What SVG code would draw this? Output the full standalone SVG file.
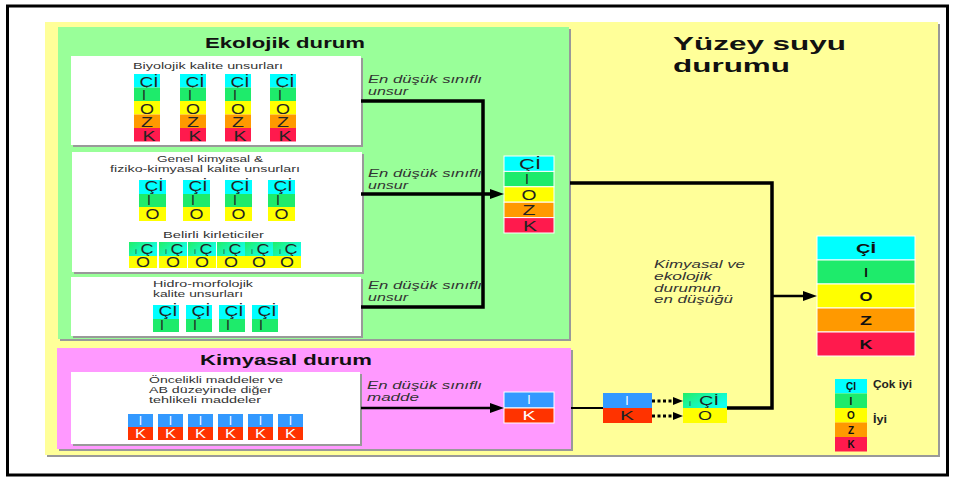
<svg xmlns="http://www.w3.org/2000/svg" width="955" height="479" viewBox="0 0 955 479">
<style>
text{font-family:'Liberation Sans',Arial,sans-serif;fill:#222}
.cy{fill:#00FFFF}.gr{fill:#1EEB6B}.ye{fill:#FFFF00}.or{fill:#FF9900}.rd{fill:#FF1A4D}.bl{fill:#3399FF}.ro{fill:#FF3300}
.ct{font-size:14px;text-anchor:middle}
.cw{font-size:12px;text-anchor:middle;fill:#fff}
.cb{font-size:13px;font-weight:bold;text-anchor:middle;fill:#111}
.lg{font-size:10px;font-weight:bold;text-anchor:middle;fill:#111}
.lb{font-size:9px;fill:#333}
.it{font-size:10px;font-style:italic;fill:#333}
.ttl{font-size:15px;font-weight:bold;fill:#111}
.big{font-size:19px;font-weight:bold;fill:#111}
.sh{fill:#999}
.wb{fill:#fff}
.sep{stroke:#fff;stroke-width:1}
.ln{fill:none;stroke:#000;stroke-linecap:butt}
</style>
<defs>
<linearGradient id="gc" x1="0" y1="0" x2="1" y2="0.6">
<stop offset="0" stop-color="#22EE66"/><stop offset="1" stop-color="#11FFEE"/>
</linearGradient>
<marker id="ah" markerUnits="userSpaceOnUse" markerWidth="14" markerHeight="10" refX="2" refY="5" orient="auto">
<path d="M0,0 L14,5 L0,10 z" fill="#000"/>
</marker>
<marker id="as" markerUnits="userSpaceOnUse" markerWidth="10" markerHeight="8" refX="1" refY="4" orient="auto">
<path d="M0,0 L10,4 L0,8 z" fill="#000"/>
</marker>
<g id="bio5">
<rect x="0" y="0" width="26" height="13.5" class="cy"/><text x="15" y="12.5" class="ct" textLength="19" lengthAdjust="spacingAndGlyphs">Çİ</text>
<rect x="0" y="13.5" width="26" height="13.5" class="gr"/><text x="10" y="25.5" class="ct">I</text>
<rect x="0" y="27" width="26" height="13.5" class="ye"/><text x="13" y="39.5" class="ct" textLength="14" lengthAdjust="spacingAndGlyphs">O</text>
<rect x="0" y="40.5" width="26" height="13.5" class="or"/><text x="13" y="53" class="ct" textLength="12" lengthAdjust="spacingAndGlyphs">Z</text>
<rect x="0" y="54" width="26" height="13.5" class="rd"/><text x="15" y="66.5" class="ct" textLength="13" lengthAdjust="spacingAndGlyphs">K</text>
</g>
<g id="gen3">
<rect x="0" y="0" width="27" height="14" class="cy"/><text x="15" y="10.5" class="ct" textLength="19" lengthAdjust="spacingAndGlyphs">Çİ</text>
<rect x="0" y="14" width="27" height="13" class="gr"/><text x="10" y="25" class="ct">I</text>
<rect x="0" y="27" width="27" height="14" class="ye"/><text x="13.5" y="39" class="ct" textLength="14" lengthAdjust="spacingAndGlyphs">O</text>
</g>
<g id="bel2">
<rect x="0" y="0" width="28" height="14" fill="url(#gc)"/><text x="7" y="12" class="ct" style="font-size:7px">i</text><text x="18" y="11.5" class="ct" textLength="13" lengthAdjust="spacingAndGlyphs">Ç</text>
<rect x="0" y="14" width="28" height="12" class="ye"/><text x="14" y="25" class="ct" textLength="14" lengthAdjust="spacingAndGlyphs">O</text>
</g>
<g id="hid2">
<rect x="0" y="0" width="26" height="14" class="cy"/><text x="15" y="11" class="ct" textLength="19" lengthAdjust="spacingAndGlyphs">Çİ</text>
<rect x="0" y="14" width="26" height="13" class="gr"/><text x="9" y="25" class="ct">I</text>
</g>
<g id="kim2">
<rect x="0" y="0" width="25" height="13" class="bl"/><text x="12.5" y="10.5" class="cw">I</text>
<rect x="0" y="13" width="25" height="13" class="ro"/><text x="12.5" y="23.5" class="cw" textLength="11" lengthAdjust="spacingAndGlyphs">K</text>
</g>
</defs>

<rect x="7.5" y="6" width="940" height="469" fill="#fff" stroke="#000" stroke-width="3"/>

<g id="yuzey-panel">
<rect x="47" y="24" width="893" height="433" class="sh"/>
<rect x="45" y="22" width="893" height="433" fill="#FFFF99"/>
<text x="673" y="50" class="big" textLength="173" lengthAdjust="spacingAndGlyphs">Yüzey suyu</text>
<text x="673" y="72" class="big" textLength="117" lengthAdjust="spacingAndGlyphs">durumu</text>
</g>

<g id="ekolojik-panel">
<rect x="60" y="29" width="511" height="312" class="sh"/>
<rect x="58" y="27" width="511" height="312" fill="#99FF99"/>
<text x="205" y="48" class="ttl" textLength="160" lengthAdjust="spacingAndGlyphs">Ekolojik durum</text>
</g>

<g id="kimyasal-panel">
<rect x="59" y="350" width="514" height="101" class="sh"/>
<rect x="57" y="348" width="514" height="101" fill="#FF99FF"/>
<text x="200" y="365" class="ttl" textLength="172" lengthAdjust="spacingAndGlyphs">Kimyasal durum</text>
</g>

<g id="biyolojik">
<rect x="73" y="58" width="290" height="89" class="sh"/>
<rect x="71" y="56" width="290" height="89" class="wb"/>
<text x="133" y="69" class="lb" textLength="150" lengthAdjust="spacingAndGlyphs">Biyolojik kalite unsurları</text>
<use href="#bio5" x="134" y="74"/>
<use href="#bio5" x="180" y="74"/>
<use href="#bio5" x="225" y="74"/>
<use href="#bio5" x="270" y="74"/>
</g>

<g id="genel-kimyasal">
<rect x="74" y="154" width="290" height="120" class="sh"/>
<rect x="72" y="152" width="290" height="120" class="wb"/>
<text x="157" y="162" class="lb" textLength="106" lengthAdjust="spacingAndGlyphs">Genel kimyasal &amp;</text>
<text x="110" y="172" class="lb" textLength="190" lengthAdjust="spacingAndGlyphs">fiziko-kimyasal kalite unsurları</text>
<use href="#gen3" x="139" y="180"/>
<use href="#gen3" x="183" y="180"/>
<use href="#gen3" x="225" y="180"/>
<use href="#gen3" x="268" y="180"/>
<text x="163" y="238" class="lb" textLength="101" lengthAdjust="spacingAndGlyphs">Belirli kirleticiler</text>
<use href="#bel2" x="129" y="242"/>
<use href="#bel2" x="159" y="242"/>
<use href="#bel2" x="188" y="242"/>
<use href="#bel2" x="217" y="242"/>
<use href="#bel2" x="245" y="242"/>
<use href="#bel2" x="273" y="242"/>
</g>

<g id="hidro-morfolojik">
<rect x="73" y="279" width="290" height="59" class="sh"/>
<rect x="71" y="277" width="290" height="59" class="wb"/>
<text x="153" y="287" class="lb" textLength="100" lengthAdjust="spacingAndGlyphs">Hidro-morfolojik</text>
<text x="153" y="297" class="lb" textLength="90" lengthAdjust="spacingAndGlyphs">kalite unsurları</text>
<use href="#hid2" x="153" y="305"/>
<use href="#hid2" x="186" y="305"/>
<use href="#hid2" x="219" y="305"/>
<use href="#hid2" x="252" y="305"/>
</g>

<g id="oncelikli-maddeler">
<rect x="73" y="374" width="289" height="72" class="sh"/>
<rect x="71" y="372" width="289" height="72" class="wb"/>
<text x="149" y="383" class="lb" textLength="134" lengthAdjust="spacingAndGlyphs">Öncelikli maddeler ve</text>
<text x="149" y="393" class="lb" textLength="123" lengthAdjust="spacingAndGlyphs">AB düzeyinde diğer</text>
<text x="149" y="403" class="lb" textLength="112" lengthAdjust="spacingAndGlyphs">tehlikeli maddeler</text>
<use href="#kim2" x="128" y="414"/>
<use href="#kim2" x="158" y="414"/>
<use href="#kim2" x="188" y="414"/>
<use href="#kim2" x="218" y="414"/>
<use href="#kim2" x="248" y="414"/>
<use href="#kim2" x="278" y="414"/>
</g>

<g id="ekolojik-sonuc">
<rect x="504" y="156" width="50" height="15.4" class="cy sep"/><text x="530" y="169" class="ct" textLength="22" lengthAdjust="spacingAndGlyphs">Çİ</text>
<rect x="504" y="171.4" width="50" height="15.4" class="gr sep"/><text x="527" y="184.4" class="ct">I</text>
<rect x="504" y="186.8" width="50" height="15.4" class="ye sep"/><text x="529" y="199.8" class="ct" textLength="15" lengthAdjust="spacingAndGlyphs">O</text>
<rect x="504" y="202.2" width="50" height="15.4" class="or sep"/><text x="529" y="215.2" class="ct" textLength="13" lengthAdjust="spacingAndGlyphs">Z</text>
<rect x="504" y="217.6" width="50" height="15.4" class="rd sep"/><text x="530" y="230.6" class="ct" textLength="14" lengthAdjust="spacingAndGlyphs">K</text>
</g>

<g id="kimyasal-sonuc">
<rect x="504" y="392" width="50" height="16" class="bl sep"/><text x="529" y="404" class="cw">I</text>
<rect x="504" y="408" width="50" height="15" class="ro sep"/><text x="529" y="420" class="cw" textLength="13" lengthAdjust="spacingAndGlyphs">K</text>
</g>

<g id="kimyasal-eslesme">
<rect x="603" y="393" width="49" height="15" class="bl"/><text x="627" y="405" class="cw">I</text>
<rect x="603" y="408" width="49" height="15" class="ro"/><text x="627" y="420" class="ct" style="font-size:13px" textLength="14" lengthAdjust="spacingAndGlyphs">K</text>
</g>

<g id="kimyasal-karsilik">
<rect x="683" y="393" width="44" height="15" fill="url(#gc)"/><text x="690" y="406" class="ct" style="font-size:7px">i</text><text x="709" y="405" class="ct" style="font-size:13px" textLength="20" lengthAdjust="spacingAndGlyphs">Çİ</text>
<rect x="683" y="408" width="44" height="15" class="ye"/><text x="705" y="420" class="ct" style="font-size:13px" textLength="14" lengthAdjust="spacingAndGlyphs">O</text>
</g>

<g id="yuzey-sonuc">
<rect x="817" y="236" width="98" height="24" class="cy sep"/><text x="866" y="253" class="cb" textLength="20" lengthAdjust="spacingAndGlyphs">Çİ</text>
<rect x="817" y="260" width="98" height="24" class="gr sep"/><text x="866" y="277" class="cb">I</text>
<rect x="817" y="284" width="98" height="24" class="ye sep"/><text x="866" y="301" class="cb" textLength="13" lengthAdjust="spacingAndGlyphs">O</text>
<rect x="817" y="308" width="98" height="24" class="or sep"/><text x="866" y="325" class="cb" textLength="12" lengthAdjust="spacingAndGlyphs">Z</text>
<rect x="817" y="332" width="98" height="24" class="rd sep"/><text x="866" y="349" class="cb" textLength="13" lengthAdjust="spacingAndGlyphs">K</text>
</g>

<g id="legend">
<rect x="835" y="379" width="32" height="14.5" class="cy"/><text x="851" y="390" class="lg">ÇI</text>
<rect x="835" y="393.5" width="32" height="14.5" class="gr"/><text x="851" y="404.5" class="lg">I</text>
<rect x="835" y="408" width="32" height="14.5" class="ye"/><text x="851" y="419" class="lg">O</text>
<rect x="835" y="422.5" width="32" height="14.5" class="or"/><text x="851" y="433.5" class="lg">Z</text>
<rect x="835" y="437" width="32" height="14.5" class="rd"/><text x="851" y="448" class="lg">K</text>
<text x="873" y="388" style="font-size:11px;font-weight:bold" textLength="39" lengthAdjust="spacingAndGlyphs">Çok iyi</text>
<text x="873" y="423" style="font-size:11px;font-weight:bold" textLength="14" lengthAdjust="spacingAndGlyphs">İyi</text>
</g>

<g id="connectors">
<path class="ln" d="M361,101 H483 V307 H361" stroke-width="3.5"/>
<path class="ln" d="M361,194 H492" stroke-width="3.5" marker-end="url(#ah)"/>
<path class="ln" d="M570,183 H772 V408 H727" stroke-width="3.5"/>
<path class="ln" d="M772,296 H805" stroke-width="2.5" marker-end="url(#ah)"/>
<path class="ln" d="M361,408 H492" stroke-width="2.5" marker-end="url(#ah)"/>
<path class="ln" d="M571,408 H603" stroke-width="2"/>
<path class="ln" d="M652,401 H674" stroke-width="3" stroke-dasharray="3 2.5" marker-end="url(#as)"/>
<path class="ln" d="M652,416 H674" stroke-width="3" stroke-dasharray="3 2.5" marker-end="url(#as)"/>
<text x="368" y="83" class="it" textLength="114" lengthAdjust="spacingAndGlyphs">En düşük sınıflı</text>
<text x="368" y="95" class="it" textLength="40" lengthAdjust="spacingAndGlyphs">unsur</text>
<text x="368" y="177" class="it" textLength="114" lengthAdjust="spacingAndGlyphs">En düşük sınıflı</text>
<text x="368" y="189" class="it" textLength="40" lengthAdjust="spacingAndGlyphs">unsur</text>
<text x="368" y="289" class="it" textLength="114" lengthAdjust="spacingAndGlyphs">En düşük sınıflı</text>
<text x="368" y="301" class="it" textLength="40" lengthAdjust="spacingAndGlyphs">unsur</text>
<text x="367" y="389" class="it" textLength="115" lengthAdjust="spacingAndGlyphs">En düşük sınıflı</text>
<text x="367" y="401" class="it" textLength="52" lengthAdjust="spacingAndGlyphs">madde</text>
<text x="654" y="268" class="it" textLength="91" lengthAdjust="spacingAndGlyphs">Kimyasal ve</text>
<text x="654" y="280" class="it" textLength="58" lengthAdjust="spacingAndGlyphs">ekolojik</text>
<text x="654" y="292" class="it" textLength="67" lengthAdjust="spacingAndGlyphs">durumun</text>
<text x="654" y="303" class="it" textLength="79" lengthAdjust="spacingAndGlyphs">en düşüğü</text>
</g>
</svg>
